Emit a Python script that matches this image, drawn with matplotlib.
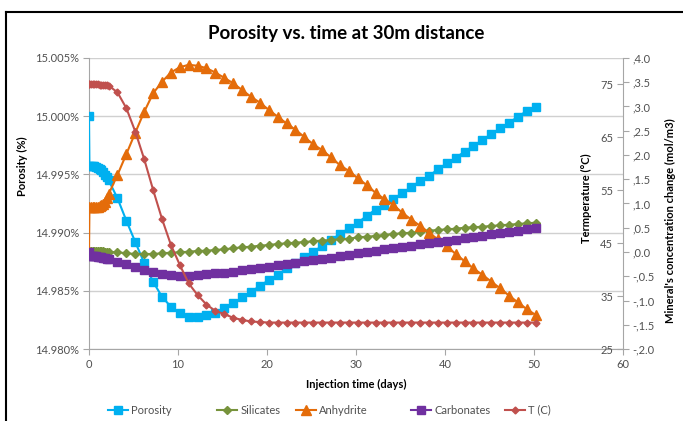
import matplotlib.pyplot as plt
from matplotlib.lines import Line2D
from matplotlib.ticker import FuncFormatter, MultipleLocator

plt.rcParams['font.family'] = ['Lato', 'DejaVu Sans']

# injection time (days)
days = [0.0, 0.05, 0.2, 0.4, 0.6, 0.8, 1.0, 1.2, 1.4, 1.6, 1.8, 2.0, 2.2,
        3.2, 4.2, 5.2, 6.2, 7.2, 8.2, 9.2, 10.2, 11.2, 12.2,
        13.2, 14.2, 15.2, 16.2, 17.2, 18.2, 19.2, 20.2, 21.2, 22.2,
        23.2, 24.2, 25.2, 26.2, 27.2, 28.2, 29.2, 30.2, 31.2, 32.2,
        33.2, 34.2, 35.2, 36.2, 37.2, 38.2, 39.2, 40.2, 41.2, 42.2,
        43.2, 44.2, 45.2, 46.2, 47.2, 48.2, 49.2, 50.2]

# porosity (%)
porosity = [15.0000, 14.99575, 14.99575, 14.99573, 14.99570, 14.99565, 14.99558,
            14.99548, 14.99535, 14.99518, 14.99497, 14.99475, 14.99450,
            14.99295, 14.99102, 14.98919, 14.98739, 14.98578, 14.98449, 14.98363, 14.98307, 14.98277, 14.98272,
            14.98292, 14.98312, 14.98350, 14.98393, 14.98444, 14.98492, 14.98541, 14.98593, 14.98636, 14.98693,
            14.98736, 14.98788, 14.98836, 14.98885, 14.98936, 14.98988, 14.99037, 14.99085, 14.99143, 14.99198,
            14.99241, 14.99289, 14.99340, 14.99392, 14.99443, 14.99486, 14.99544, 14.99595, 14.99643, 14.99695,
            14.99744, 14.99796, 14.99847, 14.99896, 14.99944, 14.99996, 15.00045, 15.00082]

# mineral concentration change (mol/m3)
silicates = [0.00, 0.03, 0.03, 0.03, 0.03, 0.03, 0.03, 0.025, 0.02, 0.015, 0.01, 0.005, 0.0,
             -0.006, -0.027, -0.041, -0.041, -0.041, -0.027, -0.014, -0.006, 0.006, 0.021,
             0.027, 0.041, 0.056, 0.076, 0.097, 0.109, 0.130, 0.144, 0.165, 0.179,
             0.192, 0.206, 0.221, 0.237, 0.247, 0.262, 0.274, 0.303, 0.315, 0.330,
             0.351, 0.371, 0.386, 0.398, 0.419, 0.439, 0.454, 0.468, 0.480, 0.501,
             0.509, 0.522, 0.536, 0.551, 0.563, 0.577, 0.592, 0.604]

anhydrite = [0.00, 0.93, 0.93, 0.93, 0.93, 0.93, 0.93, 0.94, 0.96, 0.99, 1.04, 1.11, 1.19,
             1.59, 2.02, 2.46, 2.89, 3.27, 3.51, 3.70, 3.81, 3.86, 3.84,
             3.79, 3.70, 3.59, 3.48, 3.34, 3.20, 3.08, 2.93, 2.79, 2.65,
             2.52, 2.37, 2.22, 2.10, 1.95, 1.79, 1.67, 1.52, 1.38, 1.22,
             1.09, 0.97, 0.81, 0.67, 0.54, 0.40, 0.26, 0.12, -0.04, -0.19,
             -0.34, -0.47, -0.61, -0.75, -0.90, -1.04, -1.18, -1.30]

carbonates = [0.00, -0.08, -0.08, -0.08, -0.085, -0.09, -0.095, -0.10, -0.105, -0.115, -0.125, -0.14, -0.15,
              -0.200, -0.247, -0.315, -0.371, -0.419, -0.454, -0.474, -0.489, -0.489, -0.474,
              -0.460, -0.439, -0.427, -0.406, -0.371, -0.357, -0.324, -0.303, -0.268, -0.247,
              -0.221, -0.186, -0.165, -0.144, -0.118, -0.082, -0.062, -0.027, 0.006, 0.027,
              0.056, 0.076, 0.109, 0.130, 0.159, 0.179, 0.212, 0.233, 0.247, 0.282,
              0.303, 0.336, 0.365, 0.398, 0.419, 0.439, 0.468, 0.489]

# temperature (C)
temperature = [75.0, 75.0, 75.0, 75.0, 75.0, 75.0, 75.0, 74.95, 74.95, 74.9, 74.9, 74.85, 74.8,
               73.5, 70.5, 66.1, 60.9, 55.1, 49.6, 44.7, 40.9, 37.4, 35.2,
               33.4, 32.2, 31.6, 30.9, 30.5, 30.2, 30.1, 30.0, 30.0, 30.0,
               30.0, 30.0, 30.0, 30.0, 30.0, 30.0, 30.0, 30.0, 30.0, 30.0,
               30.0, 30.0, 30.0, 30.0, 30.0, 30.0, 30.0, 30.0, 30.0, 30.0,
               30.0, 30.0, 30.0, 30.0, 30.0, 30.0, 30.0, 30.0]

W, H = 683, 421
GRAY = '#A6A6A6'
TXT = '#505050'

fig = plt.figure(figsize=(W / 100, H / 100), dpi=100)
ax = fig.add_axes([89 / W, 1 - 349 / H, (623 - 89) / W, (349 - 58) / H])

# porosity on the main axis
p_line, = ax.plot(days, porosity, color='#00B0F0', lw=1.5, marker='s', ms=5.5,
                  mec='#00B0F0', label='Porosity', zorder=3)
ax.set_xlim(0, 60)
ax.set_ylim(14.980, 15.005)
ax.xaxis.set_major_locator(MultipleLocator(10))
ax.set_yticks([14.980, 14.985, 14.990, 14.995, 15.000, 15.005])
ax.yaxis.set_major_formatter(FuncFormatter(lambda v, _: f'{v:.3f}%'))
ax.yaxis.grid(True, color='#D0D0D0', lw=1)
ax.set_axisbelow(True)
for s in ['top', 'right']:
    ax.spines[s].set_visible(False)
for s in ['left', 'bottom']:
    ax.spines[s].set_color(GRAY)
ax.tick_params(axis='both', colors=GRAY, labelcolor=TXT, labelsize=8, length=4)
ax.tick_params(axis='y', pad=3)
ax.set_xlabel('Injection time (days)', fontsize=8, fontweight='bold', labelpad=6)
ax.set_ylabel('Porosity (%)', fontsize=8, fontweight='bold')
ax.yaxis.set_label_coords((28 - 89) / 534, (349 - 166) / 291)

# minerals on the outer right axis
ax_m = ax.twinx()
s_line, = ax_m.plot(days, silicates, color='#77933C', lw=1.5, marker='D', ms=3.8,
                    mec='#77933C', label='Silicates')
a_line, = ax_m.plot(days, anhydrite, color='#E46C0A', lw=1.5, marker='^', ms=6.5,
                    mec='#E46C0A', label='Anhydrite')
c_line, = ax_m.plot(days, carbonates, color='#7030A0', lw=1.5, marker='s', ms=5.8,
                    mec='#7030A0', label='Carbonates')
ax_m.set_ylim(-2.0, 4.0)
ax_m.yaxis.set_major_locator(MultipleLocator(0.5))
ax_m.yaxis.set_major_formatter(
    FuncFormatter(lambda v, _: ('-,' if v < -1e-9 else ',') + f'{abs(v):.1f}'))
for s in ['top', 'left', 'bottom']:
    ax_m.spines[s].set_visible(False)
ax_m.spines['right'].set_color(GRAY)
ax_m.tick_params(axis='y', colors=GRAY, labelcolor=TXT, labelsize=8, length=4, pad=3)
ax_m.set_ylabel("Mineral's concentration change (mol/m3)", fontsize=8, fontweight='bold')
ax_m.yaxis.set_label_coords((665 - 89) / 534, (349 - 221) / 291)

# temperature, ticks drawn on the inner side of the right edge
ax_t = ax.twinx()
t_line, = ax_t.plot(days, temperature, color='#C0504D', lw=1.5, marker='D', ms=3.5,
                    mec='#C0504D', label='T (C)')
ax_t.set_ylim(25, 80)
ax_t.set_yticks([25, 35, 45, 55, 65, 75])
ax_t.spines['left'].set_position(('axes', 1.0))
ax_t.yaxis.set_ticks_position('left')
ax_t.yaxis.set_label_position('left')
for s in ax_t.spines.values():
    s.set_visible(False)
ax_t.tick_params(axis='y', colors=GRAY, labelcolor=TXT, labelsize=8, length=4, pad=3)
ax_t.set_ylabel('Termperature (°C)', fontsize=8, fontweight='bold')
ax_t.yaxis.set_label_coords((592 - 89) / 534, (349 - 198) / 291)

fig.text(346 / W, 1 - 33 / H, 'Porosity vs. time at 30m distance',
         ha='center', va='center', fontsize=13.5, fontweight='bold')

# legend entries spread along the bottom
handles = [p_line, s_line, a_line, c_line, t_line]
legend_x = [108, 217, 296, 411, 505]
for h, x in zip(handles, legend_x):
    fig.legend([h], [h.get_label()], loc='center left',
               bbox_to_anchor=(x / W, 1 - 410 / H), frameon=False, fontsize=8,
               handlelength=1.8, handletextpad=0.3, borderpad=0, borderaxespad=0,
               labelcolor=TXT)

# chart frame
fig.add_artist(Line2D([6 / W, 6 / W], [0, 1 - 12 / H], color='black', lw=1.5,
                      transform=fig.transFigure))
fig.add_artist(Line2D([6 / W, 1], [1 - 12 / H, 1 - 12 / H], color='black', lw=1.5,
                      transform=fig.transFigure))

fig.savefig('out.png', dpi=100)
